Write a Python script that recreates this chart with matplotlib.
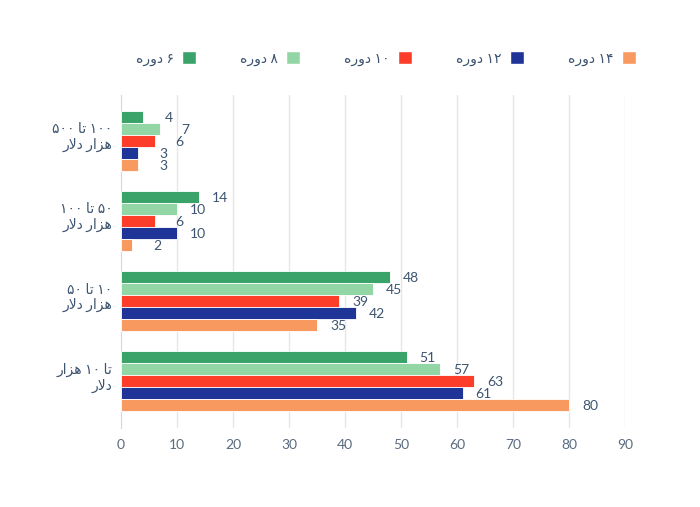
import matplotlib.pyplot as plt
from matplotlib.patches import Patch

plt.rcParams["font.family"] = ["Lato", "DejaVu Sans"]

# Persian words shaped with presentation forms
TA = "\uFE8E\uFE97"
HAZAR = "\uFEAD\uFE8D\uFEB0\uFEEB"
DOLAR = "\uFEAD\uFEFB\uFEA9"
DOREH = "\uFEE9\uFEAD\uFEED\uFEA9"

categories = [
    "۵۰۰ " + TA + " ۱۰۰\n" + DOLAR + " " + HAZAR,
    "۱۰۰ " + TA + " ۵۰\n" + DOLAR + " " + HAZAR,
    "۵۰ " + TA + " ۱۰\n" + DOLAR + " " + HAZAR,
    HAZAR + " ۱۰ " + TA + "\n" + DOLAR,
]
series_names = [DOREH + " ۶", DOREH + " ۸", DOREH + " ۱۰", DOREH + " ۱۲", DOREH + " ۱۴"]
dore6 = [4, 14, 48, 51]
dore8 = [7, 10, 45, 57]
dore10 = [6, 6, 39, 63]
dore12 = [3, 10, 42, 61]
dore14 = [3, 2, 35, 80]
series = [dore6, dore8, dore10, dore12, dore14]
colors = ["#3aa36a", "#93d6a6", "#fc3d2a", "#1f3497", "#f89a5f"]
text_color = "#3d5470"

fig = plt.figure(figsize=(7, 5.07), dpi=100)
ax = fig.add_axes([121 / 700, 1 - 428 / 507, 504 / 700, 333 / 507])

bar_h = 0.15
for k, (vals, col) in enumerate(zip(series, colors)):
    ys = [i - 0.3 + bar_h * (k + 0.5) for i in range(len(categories))]
    ax.barh(ys, vals, height=bar_h, color=col, edgecolor="white", linewidth=0.6, zorder=3)
    for y, v in zip(ys, vals):
        ax.annotate(str(v), (v, y), xytext=(21, -1), textcoords="offset points",
                    ha="right", va="center", fontsize=10, color=text_color)

ax.set_xlim(0, 90)
ax.set_ylim(3.6625, -0.5)
ax.set_xticks(range(0, 91, 10))
ax.set_yticks(range(len(categories)))
ax.set_yticklabels(categories, fontsize=10, color=text_color,
                   multialignment="right")
ax.tick_params(axis="x", length=0, pad=8, labelsize=10, labelcolor="#5a6b80")
ax.tick_params(axis="y", length=0, pad=6)
ax.grid(axis="x", color="#e6e6e6", linewidth=1, zorder=0)
for s in ["top", "right", "bottom"]:
    ax.spines[s].set_visible(False)
ax.spines["left"].set_color("#d9d9d9")

handles = [Patch(facecolor=c, edgecolor="white") for c in colors]
fig.legend(handles, series_names, loc="lower left", ncol=5, mode="expand",
           bbox_to_anchor=(123 / 700, 1 - 78 / 507, 525 / 700, 20 / 507),
           markerfirst=False, frameon=False, handlelength=1.0, handleheight=1.0,
           handletextpad=0.6, fontsize=10, labelcolor=text_color)

fig.savefig("out.png", dpi=100)
